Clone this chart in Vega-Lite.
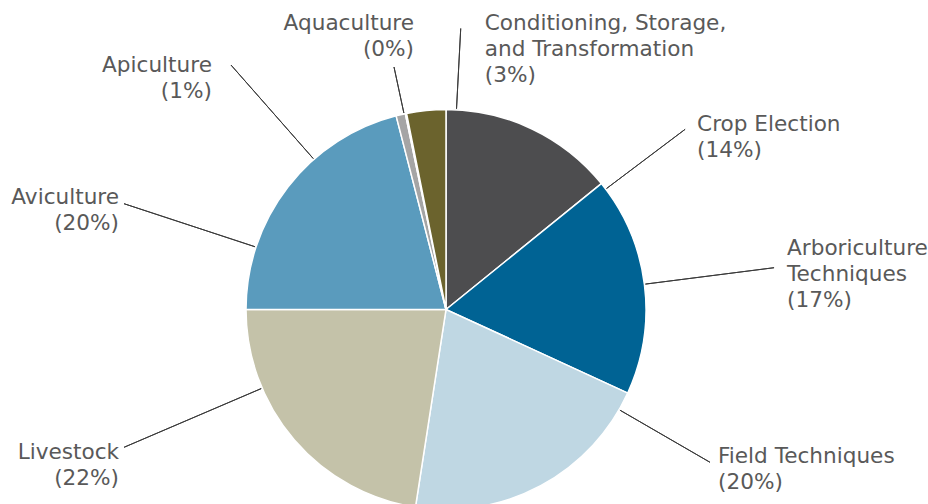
{
  "$schema": "https://vega.github.io/schema/vega-lite/v6.json",
  "width": 892,
  "height": 389,
  "autosize": {"type": "none"},
  "padding": {"left": 0, "top": 115, "right": 36, "bottom": 0},
  "background": "white",
  "config": {"view": {"stroke": null}},
  "data": {
    "values": [
      {"category": "Crop Election", "value": 14.16, "label": "Crop Election\n(14%)"},
      {"category": "Arboriculture Techniques", "value": 17.70, "label": "Arboriculture\nTechniques\n(17%)"},
      {"category": "Field Techniques", "value": 20.58, "label": "Field Techniques\n(20%)"},
      {"category": "Livestock", "value": 22.56, "label": "Livestock\n(22%)"},
      {"category": "Aviculture", "value": 20.99, "label": "Aviculture\n(20%)"},
      {"category": "Apiculture", "value": 0.75, "label": "Apiculture\n(1%)"},
      {"category": "Aquaculture", "value": 0.10, "label": "Aquaculture\n(0%)"},
      {"category": "Conditioning, Storage, and Transformation", "value": 3.16, "label": "Conditioning, Storage,\nand Transformation\n(3%)"}
    ]
  },
  "transform": [{"window": [{"op": "row_number", "as": "rn"}]}],
  "encoding": {
    "theta": {"field": "value", "type": "quantitative", "stack": true},
    "order": {"field": "rn", "type": "quantitative"},
    "detail": {"field": "category", "type": "nominal"}
  },
  "layer": [
    {
      "mark": {"type": "arc", "outerRadius": 200, "stroke": "white", "strokeWidth": 1.5},
      "encoding": {
        "color": {
          "field": "category",
          "type": "nominal",
          "legend": null,
          "scale": {
            "domain": ["Crop Election", "Arboriculture Techniques", "Field Techniques", "Livestock", "Aviculture", "Apiculture", "Aquaculture", "Conditioning, Storage, and Transformation"],
            "range": ["#4d4d4f", "#006394", "#bfd7e3", "#c4c2a9", "#5a9bbd", "#a5a5a5", "#d9d9d9", "#6b632d"]
          }
        }
      }
    },
    {
      "mark": {"type": "arc", "outerRadius": 299.4, "innerRadius": 201, "thetaOffset": 0.48017, "theta2Offset": 0.48017, "padAngle": 3, "filled": false, "stroke": "#3a3a3a", "strokeWidth": 1},
      "encoding": {"strokeOpacity": {"condition": {"test": "datum.category === 'Crop Election'", "value": 1}, "value": 0}}
    },
    {
      "mark": {"type": "arc", "outerRadius": 330.7, "innerRadius": 201, "thetaOffset": -0.00168, "theta2Offset": -0.00168, "padAngle": 3, "filled": false, "stroke": "#3a3a3a", "strokeWidth": 1},
      "encoding": {"strokeOpacity": {"condition": {"test": "datum.category === 'Arboriculture Techniques'", "value": 1}, "value": 0}}
    },
    {
      "mark": {"type": "arc", "outerRadius": 305, "innerRadius": 201, "thetaOffset": -0.55292, "theta2Offset": -0.55292, "padAngle": 3, "filled": false, "stroke": "#3a3a3a", "strokeWidth": 1},
      "encoding": {"strokeOpacity": {"condition": {"test": "datum.category === 'Field Techniques'", "value": 1}, "value": 0}}
    },
    {
      "mark": {"type": "arc", "outerRadius": 350.2, "innerRadius": 201, "thetaOffset": 0.30435, "theta2Offset": 0.30435, "padAngle": 3, "filled": false, "stroke": "#3a3a3a", "strokeWidth": 1},
      "encoding": {"strokeOpacity": {"condition": {"test": "datum.category === 'Livestock'", "value": 1}, "value": 0}}
    },
    {
      "mark": {"type": "arc", "outerRadius": 338.9, "innerRadius": 201, "thetaOffset": -0.34194, "theta2Offset": -0.34194, "padAngle": 3, "filled": false, "stroke": "#3a3a3a", "strokeWidth": 1},
      "encoding": {"strokeOpacity": {"condition": {"test": "datum.category === 'Aviculture'", "value": 1}, "value": 0}}
    },
    {
      "mark": {"type": "arc", "outerRadius": 325.6, "innerRadius": 201, "thetaOffset": -0.49295, "theta2Offset": -0.49295, "padAngle": 3, "filled": false, "stroke": "#3a3a3a", "strokeWidth": 1},
      "encoding": {"strokeOpacity": {"condition": {"test": "datum.category === 'Apiculture'", "value": 1}, "value": 0}}
    },
    {
      "mark": {"type": "arc", "outerRadius": 248, "innerRadius": 201, "thetaOffset": -0.009495, "theta2Offset": -0.009495, "padAngle": 3, "filled": false, "stroke": "#3a3a3a", "strokeWidth": 1},
      "encoding": {"strokeOpacity": {"condition": {"test": "datum.category === 'Aquaculture'", "value": 1}, "value": 0}}
    },
    {
      "mark": {"type": "arc", "outerRadius": 281.4, "innerRadius": 201, "thetaOffset": 0.15163, "theta2Offset": 0.15163, "padAngle": 3, "filled": false, "stroke": "#3a3a3a", "strokeWidth": 1},
      "encoding": {"strokeOpacity": {"condition": {"test": "datum.category === 'Conditioning, Storage, and Transformation'", "value": 1}, "value": 0}}
    },
    {
      "mark": {"type": "text", "radius": 299.4, "thetaOffset": 0.48017, "dx": 12, "dy": 1.7, "align": "left", "baseline": "alphabetic", "lineBreak": "\n", "lineHeight": 26, "font": "DejaVu Sans", "fontSize": 21.6, "fill": "#595959"},
      "encoding": {"text": {"condition": {"test": "datum.category === 'Crop Election'", "field": "label"}, "value": ""}}
    },
    {
      "mark": {"type": "text", "radius": 330.7, "thetaOffset": -0.00168, "dx": 13, "dy": -12.7, "align": "left", "baseline": "alphabetic", "lineBreak": "\n", "lineHeight": 26, "font": "DejaVu Sans", "fontSize": 21.6, "fill": "#595959"},
      "encoding": {"text": {"condition": {"test": "datum.category === 'Arboriculture Techniques'", "field": "label"}, "value": ""}}
    },
    {
      "mark": {"type": "text", "radius": 305, "thetaOffset": -0.55292, "dx": 8, "dy": 1.2, "align": "left", "baseline": "alphabetic", "lineBreak": "\n", "lineHeight": 26, "font": "DejaVu Sans", "fontSize": 21.6, "fill": "#595959"},
      "encoding": {"text": {"condition": {"test": "datum.category === 'Field Techniques'", "field": "label"}, "value": ""}}
    },
    {
      "mark": {"type": "text", "radius": 350.2, "thetaOffset": 0.30435, "dx": -5, "dy": 12, "align": "right", "baseline": "alphabetic", "lineBreak": "\n", "lineHeight": 26, "font": "DejaVu Sans", "fontSize": 21.6, "fill": "#595959"},
      "encoding": {"text": {"condition": {"test": "datum.category === 'Livestock'", "field": "label"}, "value": ""}}
    },
    {
      "mark": {"type": "text", "radius": 338.9, "thetaOffset": -0.34194, "dx": -5, "dy": 0.6, "align": "right", "baseline": "alphabetic", "lineBreak": "\n", "lineHeight": 26, "font": "DejaVu Sans", "fontSize": 21.6, "fill": "#595959"},
      "encoding": {"text": {"condition": {"test": "datum.category === 'Aviculture'", "field": "label"}, "value": ""}}
    },
    {
      "mark": {"type": "text", "radius": 325.6, "thetaOffset": -0.49295, "dx": -19, "dy": 6.7, "align": "right", "baseline": "alphabetic", "lineBreak": "\n", "lineHeight": 26, "font": "DejaVu Sans", "fontSize": 21.6, "fill": "#595959"},
      "encoding": {"text": {"condition": {"test": "datum.category === 'Apiculture'", "field": "label"}, "value": ""}}
    },
    {
      "mark": {"type": "text", "radius": 248, "thetaOffset": -0.009495, "dx": 20, "dy": -37, "align": "right", "baseline": "alphabetic", "lineBreak": "\n", "lineHeight": 26, "font": "DejaVu Sans", "fontSize": 21.6, "fill": "#595959"},
      "encoding": {"text": {"condition": {"test": "datum.category === 'Aquaculture'", "field": "label"}, "value": ""}}
    },
    {
      "mark": {"type": "text", "radius": 281.4, "thetaOffset": 0.15163, "dx": 24, "dy": 1.5, "align": "left", "baseline": "alphabetic", "lineBreak": "\n", "lineHeight": 26, "font": "DejaVu Sans", "fontSize": 21.6, "fill": "#595959"},
      "encoding": {"text": {"condition": {"test": "datum.category === 'Conditioning, Storage, and Transformation'", "field": "label"}, "value": ""}}
    }
  ]
}
